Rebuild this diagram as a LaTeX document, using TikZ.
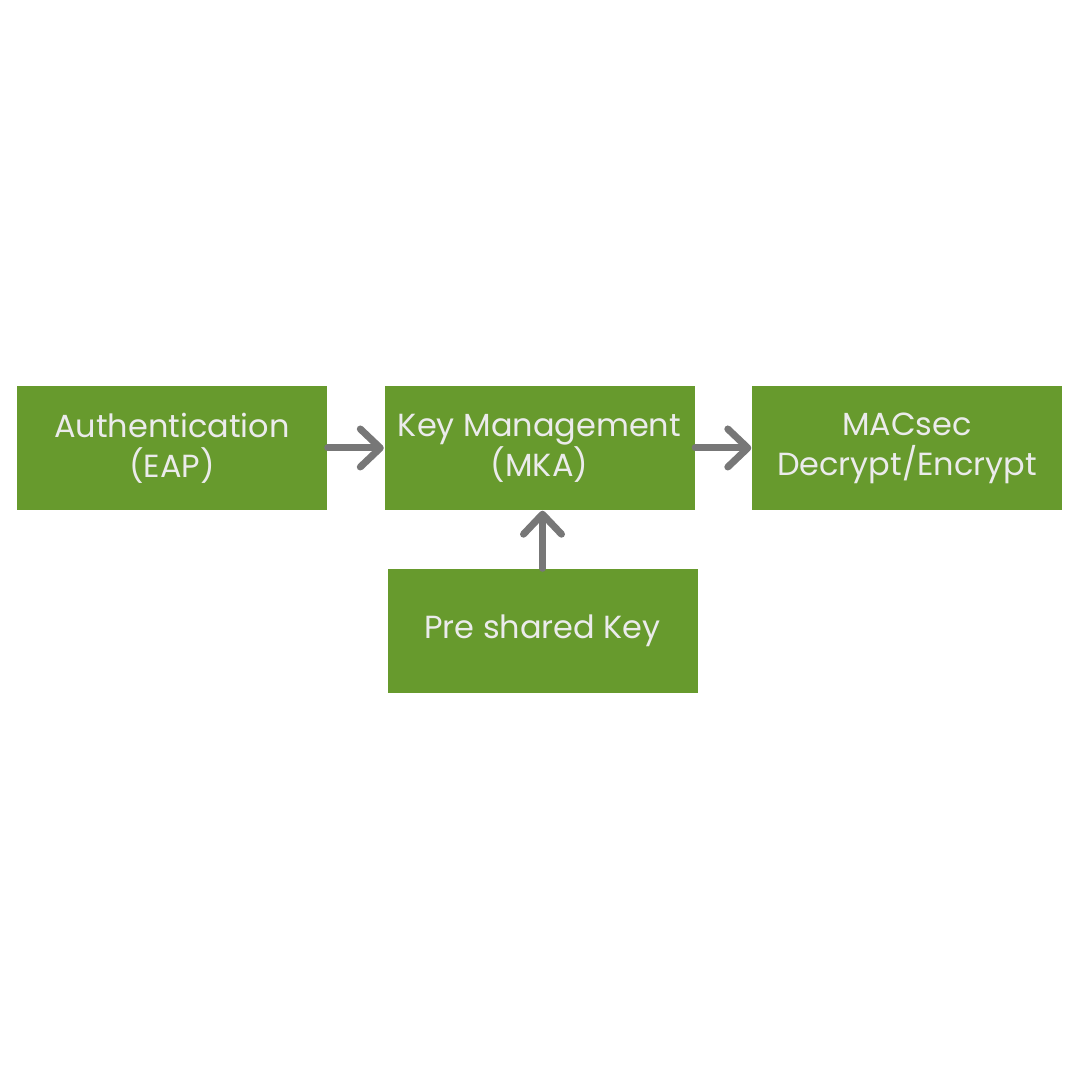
\documentclass[tikz,border=0pt]{standalone}
\usepackage{fontspec}
\setmainfont{Poppins}
\usetikzlibrary{arrows.meta}
\definecolor{boxgreen}{HTML}{679A2D}
\definecolor{boxtext}{HTML}{EBEBEB}
\definecolor{arrowgray}{HTML}{777777}
\begin{document}
\begin{tikzpicture} [every text node part/.style={align=center}]
        \tikzset{
          blockstyle/.style={fill=boxgreen, text=boxtext, minimum width=3.1cm, minimum height=1.24cm,
            inner sep=0pt, font=\fontsize{9.1}{11.4}\selectfont},
          flowarrow/.style={draw=arrowgray, line width=0.7mm, line cap=round,
            -{Straight Barb[length=2mm, width=3.8mm, round]}},
        }
        \useasboundingbox (0,0) rectangle (10.8,10.8);
        \node [blockstyle](auth) at (1.72,6.32) {Authentication\\(EAP)};
        \node [blockstyle](mka) at (5.395,6.32) {Key Management\\(MKA)};
        \node [blockstyle](macsec) at (9.07,6.32) {MACsec\\Decrypt/Encrypt};
        \node [blockstyle](psk) at (5.425,4.49) {Pre shared Key};
        % 
        \draw [flowarrow] (auth.east) -- (mka.west);
        \draw [flowarrow] (mka.east) -- (macsec.west);
        \draw [flowarrow] (psk.north) -- (psk.north |- mka.south);
    \end{tikzpicture}
\end{document}
